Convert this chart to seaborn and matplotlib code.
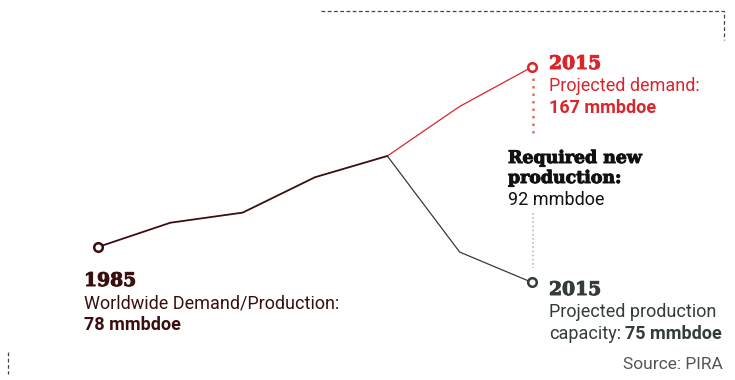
import matplotlib
matplotlib.use("Agg")
import matplotlib.pyplot as plt
import matplotlib.patheffects as pe
import seaborn as sns
import pandas as pd

# ---- data ----
hist_years = [1985, 1990, 1995, 2000, 2005]
hist_values = [78, 90, 95, 112.5, 123]
demand_years = [2005, 2010, 2015]
demand_values = [123, 147.5, 167]
prod_years = [2005, 2010, 2015]
prod_values = [123, 75.5, 60.5]

label_start = ["1985", "Worldwide Demand/Production:", "78 mmbdoe"]
label_demand = ["2015", "Projected demand:", "167 mmbdoe"]
label_gap = ["Required new", "production:", "92 mmbdoe"]
label_prod = ["2015", "Projected production", "capacity:", "75 mmbdoe"]
source = "Source: PIRA"

W, H = 735, 380
DARK = "#3b0f0f"
RED = "#d8262c"
GREY = "#333b3b"

sns.set_theme(style="white")
plt.rcParams["font.family"] = ["Roboto", "DejaVu Sans"]

df = pd.concat([
    pd.DataFrame({"year": hist_years, "value": hist_values, "series": "history"}),
    pd.DataFrame({"year": demand_years, "value": demand_values, "series": "demand"}),
    pd.DataFrame({"year": prod_years, "value": prod_values, "series": "production"}),
])

fig = plt.figure(figsize=(W / 100, H / 100), dpi=100)
ax = fig.add_axes([0, 0, 1, 1])

sns.lineplot(data=df[df.series == "demand"], x="year", y="value", color=RED,
             linewidth=0.9, ax=ax, legend=False)
sns.lineplot(data=df[df.series == "production"], x="year", y="value", color=GREY,
             linewidth=0.9, ax=ax, legend=False)
sns.lineplot(data=df[df.series == "history"], x="year", y="value", color=DARK,
             linewidth=1.3, ax=ax, legend=False)

ends = pd.DataFrame({
    "year": [hist_years[0], demand_years[-1], prod_years[-1]],
    "value": [hist_values[0], demand_values[-1], prod_values[-1]],
    "series": ["history", "demand", "production"],
})
for c, s in zip([DARK, RED, GREY], ["history", "demand", "production"]):
    sub = ends[ends.series == s]
    ax.plot(sub.year, sub.value, "o", markersize=6.2, markerfacecolor="white",
            markeredgecolor=c, markeredgewidth=1.8, zorder=5)

# axis mapping: 1985 -> x=98px, 2015 -> x=532px ; 78 -> y=247px, 167 -> y=67px
pxx = (532 - 98) / 30.0
pxy = (247 - 67) / (167 - 78)
ax.set_xlim(1985 - 98 / pxx, 1985 + (W - 98) / pxx)
ax.set_ylim(78 - (H - 247) / pxy, 78 + 247 / pxy)
ax.axis("off")


def P(x, y):
    return (x / W, 1 - y / H)


def slab(x, y, s, color, size=13.5):
    ax.text(*P(x, y), s, transform=ax.transAxes, fontsize=size, color=color,
            va="baseline", family="DejaVu Serif", fontweight="bold",
            path_effects=[pe.withStroke(linewidth=0.7, foreground=color)])


def body(x, y, s, color, bold=False, size=13, ha="left"):
    return ax.text(*P(x, y), s, transform=ax.transAxes, fontsize=size, color=color,
                   va="baseline", ha=ha, fontweight="bold" if bold else "normal",
                   family=["Roboto", "DejaVu Sans"])


# 1985 label
slab(84, 286, label_start[0], DARK)
body(84, 308, label_start[1], DARK)
body(84, 330, label_start[2], DARK, bold=True)

# demand label
slab(549, 69, label_demand[0], RED)
body(549, 91, label_demand[1], RED)
body(549, 113, label_demand[2], RED, bold=True)

# gap label
slab(508, 163, label_gap[0], "#111111", size=12.5)
slab(508, 183, label_gap[1], "#111111", size=12.5)
body(508, 205, label_gap[2], "#111111")

# production label
slab(549, 295, label_prod[0], GREY)
body(549, 317, label_prod[1], GREY)
t1 = body(549, 339, label_prod[2], GREY)
fig.canvas.draw()
bb = t1.get_window_extent()
ax.text((bb.x1 + 4) / W, 1 - 339 / H, label_prod[3], transform=ax.transAxes,
        fontsize=13, color=GREY, va="baseline", fontweight="bold",
        family=["Roboto", "DejaVu Sans"])

# source
body(723, 369, source, "#555555", size=12.5, ha="right")

# dotted connectors
ax.plot([P(533, 78)[0], P(533, 136)[0]], [P(533, 78)[1], P(533, 136)[1]],
        transform=ax.transAxes, color="#e07060", linestyle=(0, (1, 2)), linewidth=1.8)
ax.plot([P(533, 213)[0], P(533, 268)[0]], [P(533, 213)[1], P(533, 268)[1]],
        transform=ax.transAxes, color="#bbbbbb", linestyle=(0, (1, 1.5)), linewidth=1.2)

# dashed frame pieces
ax.plot([P(321, 11)[0], P(724, 11)[0], P(724, 40)[0]],
        [P(321, 11)[1], P(724, 11)[1], P(724, 40)[1]],
        transform=ax.transAxes, color="#444444", linestyle=(0, (3, 2)), linewidth=0.9)
ax.plot([P(8, 352)[0], P(8, 374)[0]], [P(8, 352)[1], P(8, 374)[1]],
        transform=ax.transAxes, color="#444444", linestyle=(0, (3, 2)), linewidth=0.9)

fig.savefig("out.png", dpi=100)
